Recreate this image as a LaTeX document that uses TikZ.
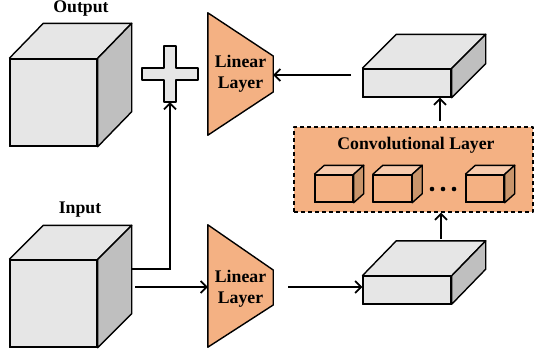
\documentclass[tikz,border=0pt]{standalone}
\usepackage{fontspec}
\setmainfont{Liberation Serif}
\usetikzlibrary{arrows.meta,calc}

\definecolor{facegray}{HTML}{E6E6E6}
\definecolor{sidegray}{HTML}{BFBFBF}
\definecolor{lin}{HTML}{F4B183}
\definecolor{ctop}{HTML}{F8CBAD}
\definecolor{cside}{HTML}{C9956B}

\tikzset{
  edge/.style={line width=1.4bp, line join=round},
  front/.style={edge, draw=black, fill=facegray, inner sep=0pt},
  arr/.style={line width=1.7bp, -{Straight Barb[length=6bp,width=12bp,line width=1.7bp]}},
  lbl/.style={font=\fontsize{17.8}{21}\selectfont\bfseries, align=center, inner sep=0pt},
  linbox/.style={lbl, minimum width=65bp, minimum height=122bp},
  mini/.style={edge, draw=black, fill=lin, inner sep=0pt, minimum width=38bp, minimum height=27bp},
}

% top face of a box drawn behind its front node
\newcommand{\depthfaces}[4]{% node, dx, dy, top colour
  \fill[#4] (#1.north west) -- ++(#2,-#3) -- ($(#1.north east)+(#2,-#3)$) -- (#1.north east) -- cycle;
  \draw[edge] (#1.north west) -- ++(#2,-#3) -- ($(#1.north east)+(#2,-#3)$) -- (#1.north east);
}
% right-hand side face
\newcommand{\sideface}[4]{%
  \filldraw[edge, fill=#4] (#1.north east) -- ++(#2,-#3) -- ($(#1.south east)+(#2,-#3)$) -- (#1.south east) -- cycle;
}

\begin{document}
\begin{tikzpicture}[x=1bp,y=-1bp]
\useasboundingbox (0,0) rectangle (537,354);

% ---- output cube ----
\node[front, minimum width=87bp, minimum height=87bp] (outf) at (53.5,102.5) {};
\depthfaces{outf}{34}{35}{facegray}
\sideface{outf}{34}{35}{sidegray}
\draw[edge] (outf.north west) rectangle (outf.south east);
\node[lbl] (outlbl) at (81,9) {Output};

% ---- input cube ----
\node[front, minimum width=87bp, minimum height=87bp] (inf) at (53.5,303.5) {};
\depthfaces{inf}{34}{34}{facegray}
\sideface{inf}{34}{34}{sidegray}
\draw[edge] (inf.north west) rectangle (inf.south east);
\node[lbl] (inlbl) at (80,210) {Input};

% ---- plus sign ----
\node[minimum width=56bp, minimum height=56bp, inner sep=0pt] (plus) at (170,74) {};
\filldraw[edge, fill=facegray]
  (164,46) -- (176,46) -- (176,68) -- (198,68) -- (198,80) -- (176,80)
  -- (176,102) -- (164,102) -- (164,80) -- (142,80) -- (142,68) -- (164,68) -- cycle;

% ---- linear layers ----
\node[linbox] (lin1) at (240.5,74) {};
\filldraw[edge, fill=lin] (lin1.north west) -- ($(lin1.east)+(0,-18)$) -- ($(lin1.east)+(0,18)$) -- (lin1.south west) -- cycle;
\node[lbl] at (lin1.center) {Linear\\Layer};

\node[linbox] (lin2) at (240.5,286) {};
\filldraw[edge, fill=lin] (lin2.north west) -- ($(lin2.east)+(0,-16)$) -- ($(lin2.east)+(0,19)$) -- (lin2.south west) -- cycle;
\node[lbl] at ($(lin2.center)+(0,3)$) {Linear\\Layer};

% ---- feature slabs ----
\node[front, minimum width=88bp, minimum height=28bp] (slab1) at (407,83) {};
\depthfaces{slab1}{34}{34}{facegray}
\sideface{slab1}{34}{34}{sidegray}
\draw[edge] (slab1.north west) rectangle (slab1.south east);

\node[front, minimum width=88bp, minimum height=27bp] (slab2) at (407,290) {};
\depthfaces{slab2}{34}{35}{facegray}
\sideface{slab2}{34}{35}{sidegray}
\draw[edge] (slab2.north west) rectangle (slab2.south east);

% ---- convolutional layer ----
\node[edge, draw=black, dashed, dash pattern=on 4bp off 3bp, fill=lin, minimum width=239bp, minimum height=85bp, inner sep=0pt] (conv) at (413.5,169.5) {};
\node[lbl] (convlbl) at (416,145) {Convolutional Layer};

\foreach \n/\cx in {c1/334, c2/392.5, c3/485} {
  \node[mini] (\n) at (\cx,188.5) {};
  \depthfaces{\n}{10}{9}{ctop}
  \sideface{\n}{10}{9}{cside}
  \draw[edge] (\n.north west) rectangle (\n.south east);
}
\foreach \dx in {432,443,454} \fill (\dx,189) circle (2.3bp);

% ---- connectors ----
\coordinate (tap) at (132,269);
\draw[arr] (tap) -| (plus.south);
\coordinate (inout) at (135,287);
\draw[arr] (inout) -- (inout -| lin2.west);
\draw[arr] ([xshift=15bp,yshift=-1bp]lin2.east) -- ([yshift=-1bp]lin2.east -| slab2.west);
\coordinate (s2top) at (441,239);
\draw[arr] (s2top) -- (s2top |- conv.south);
\coordinate (convtop) at (440,121);
\draw[arr] (convtop) -- (convtop |- slab1.south);
\draw[arr] ([xshift=78bp,yshift=-1bp]lin1.east) -- ([yshift=-1bp]lin1.east);
\end{tikzpicture}
\end{document}
